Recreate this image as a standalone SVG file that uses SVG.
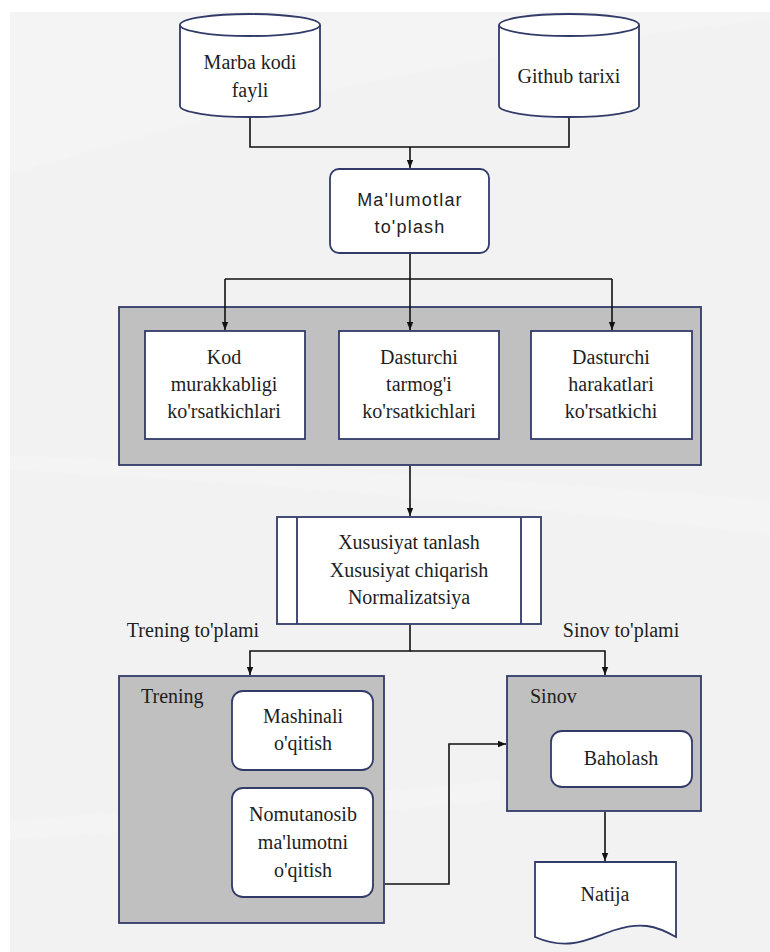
<svg xmlns="http://www.w3.org/2000/svg" width="770" height="952" viewBox="0 0 770 952">
<style>
.node{stroke:#323a68;stroke-width:1.8;fill:#ffffff}
.grp{stroke:#323a68;stroke-width:1.8;fill:#c0c0c0}
.conn{stroke:#111;stroke-width:1.6;fill:none}
.t{font-family:"Liberation Serif","Times New Roman",serif;font-size:20px;fill:#1e1e1e;text-anchor:middle}
.tl{font-family:"Liberation Serif","Times New Roman",serif;font-size:20px;fill:#1e1e1e}
.s{font-family:"Liberation Sans",Arial,sans-serif;font-size:18px;fill:#1e1e1e;text-anchor:middle;letter-spacing:1.2px}
</style>
<defs>
<marker id="ah" viewBox="0 0 10 10" refX="10" refY="5" markerWidth="8" markerHeight="8" orient="auto" markerUnits="userSpaceOnUse">
<path d="M0,1 L10,5 L0,9 Z" fill="#111"/>
</marker>
</defs>
<rect x="0" y="0" width="770" height="952" fill="#ffffff"/>
<rect x="10" y="12" width="760" height="940" fill="#f2f2f2"/>
<path d="M10,175 Q380,60 770,20 L770,12 L10,12 Z" fill="#ffffff" opacity="0.18"/>
<path d="M10,470 Q400,490 770,535 L770,500 Q400,470 10,455 Z" fill="#ffffff" opacity="0.15"/>
<path d="M10,840 Q300,820 500,800 L500,780 Q300,800 10,820 Z" fill="#ffffff" opacity="0.15"/>

<g id="marba">
<path class="node" d="M180,25 V106 A70,11 0 0 0 320,106 V25"/>
<ellipse class="node" cx="250" cy="25" rx="70" ry="11"/>
<text class="t" x="250" y="69">Marba kodi</text>
<text class="t" x="250" y="97">fayli</text>
</g>

<g id="github">
<path class="node" d="M499,25 V106 A70,11 0 0 0 639,106 V25"/>
<ellipse class="node" cx="569" cy="25" rx="70" ry="11"/>
<text class="t" x="569" y="83">Github tarixi</text>
</g>

<g id="malumotlar">
<rect class="node" x="330" y="169" width="159" height="84" rx="9"/>
<text class="s" x="410" y="206">Ma'lumotlar</text>
<text class="s" x="410" y="233">to'plash</text>
</g>

<g id="korsatkichlar">
<rect class="grp" x="119" y="307" width="582" height="158"/>
</g>

<g id="kod">
<rect class="node" x="145" y="331" width="160" height="108"/>
<text class="t" x="224" y="364">Kod</text>
<text class="t" x="224" y="391">murakkabligi</text>
<text class="t" x="224" y="418">ko'rsatkichlari</text>
</g>

<g id="tarmog">
<rect class="node" x="339" y="331" width="160" height="108"/>
<text class="t" x="419" y="364">Dasturchi</text>
<text class="t" x="419" y="391">tarmog'i</text>
<text class="t" x="419" y="418">ko'rsatkichlari</text>
</g>

<g id="harakatlari">
<rect class="node" x="531" y="331" width="161" height="108"/>
<text class="t" x="611" y="364">Dasturchi</text>
<text class="t" x="611" y="391">harakatlari</text>
<text class="t" x="611" y="418">ko'rsatkichi</text>
</g>

<g id="xususiyat">
<rect class="node" x="277" y="517" width="264" height="107"/>
<line class="node" x1="297" y1="517" x2="297" y2="624"/>
<line class="node" x1="521" y1="517" x2="521" y2="624"/>
<text class="t" x="409" y="549">Xususiyat tanlash</text>
<text class="t" x="409" y="577">Xususiyat chiqarish</text>
<text class="t" x="409" y="604">Normalizatsiya</text>
</g>

<g id="labels">
<text class="t" x="193" y="637">Trening to'plami</text>
<text class="t" x="621" y="637">Sinov to'plami</text>
</g>

<g id="trening">
<rect class="grp" x="119" y="676" width="265" height="247"/>
<text class="tl" x="141" y="703">Trening</text>
</g>

<g id="mashinali">
<rect class="node" x="232" y="691" width="141" height="79" rx="11"/>
<text class="t" x="303" y="723">Mashinali</text>
<text class="t" x="303" y="750">o'qitish</text>
</g>

<g id="nomutanosib">
<rect class="node" x="232" y="788" width="141" height="109" rx="11"/>
<text class="t" x="303" y="821">Nomutanosib</text>
<text class="t" x="303" y="849">ma'lumotni</text>
<text class="t" x="303" y="877">o'qitish</text>
</g>

<g id="sinov">
<rect class="grp" x="507" y="676" width="194" height="135"/>
<text class="tl" x="530" y="703">Sinov</text>
</g>

<g id="baholash">
<rect class="node" x="551" y="731" width="141" height="56" rx="11"/>
<text class="t" x="621" y="765">Baholash</text>
</g>

<g id="natija">
<path class="node" d="M535,862 H676 V937 C655,925 640,922 615,930 C590,938 570,952 535,937 Z"/>
<text class="t" x="605" y="901">Natija</text>
</g>

<g id="connectors">
<path class="conn" d="M250,118 V147 H569 V118"/>
<path class="conn" d="M410,147 V168" marker-end="url(#ah)"/>
<path class="conn" d="M410,254 V279"/>
<path class="conn" d="M225,279 H612"/>
<path class="conn" d="M225,279 V330" marker-end="url(#ah)"/>
<path class="conn" d="M410,279 V330" marker-end="url(#ah)"/>
<path class="conn" d="M612,279 V330" marker-end="url(#ah)"/>
<path class="conn" d="M410,466 V516" marker-end="url(#ah)"/>
<path class="conn" d="M410,625 V651 H250 V675" marker-end="url(#ah)"/>
<path class="conn" d="M410,651 H605 V675" marker-end="url(#ah)"/>
<path class="conn" d="M385,884 H449 V744 H506" marker-end="url(#ah)"/>
<path class="conn" d="M605,812 V861" marker-end="url(#ah)"/>
</g>
</svg>
